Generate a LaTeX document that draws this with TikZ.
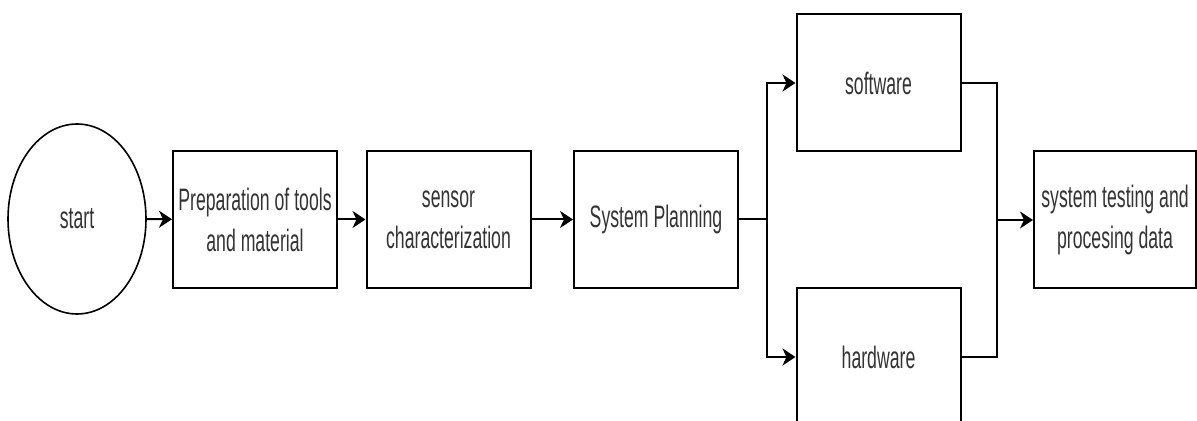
\documentclass[tikz,border=0pt]{standalone}
\usepackage{fontspec}
\newfontfamily\flowfont[FakeStretch=0.57]{Liberation Sans}
\usetikzlibrary{arrows.meta}
\usetikzlibrary{shapes.geometric}
\usetikzlibrary{positioning}

\begin{document}
\begin{tikzpicture}[x=0.5pt, y=-0.5pt, line width=1pt,
	every node/.style={draw, align=center, inner sep=1pt, text=black!80, font=\flowfont\fontsize{15.5}{20.5}\selectfont},
	box/.style={rectangle, minimum width=82pt, minimum height=68.5pt},
	>={Stealth[length=6.5pt, width=8.5pt, inset=2pt]}]
	\useasboundingbox (0,0) rectangle (1197,421);
	\node[ellipse, line width=0.8pt, minimum width=69pt, minimum height=95pt] (start) at (77,219) {start};
	\node[box] (prep) at (255,219.5) {Preparation of tools\\and material};
	\node[box] (sens) at (448.5,219.5) {sensor\\characterization};
	\node[box] (plan) at (656,219.5) {System Planning};
	\node[box] (soft) at (878.5,83) {software};
	\node[box] (hard) at (878.5,357) {hardware};
	\node[box, minimum width=81pt] (test) at (1115,220) {system testing and\\procesing data};
	\coordinate (split) at (767,219.5);
	\coordinate (join) at (997,220);
	% main line
	\draw[->] (start) -- (prep);
	\draw[->] (prep) -- (sens);
	\draw[->] (sens) -- (plan);
	% branches
	\draw (plan) -- (split);
	\draw[->] (split) |- (soft.west);
	\draw[->] (split) |- (hard.west);
	\draw (soft.east) -| (join) |- (hard.east);
	\draw[->] (join) -- (test);
\end{tikzpicture}
\end{document}
